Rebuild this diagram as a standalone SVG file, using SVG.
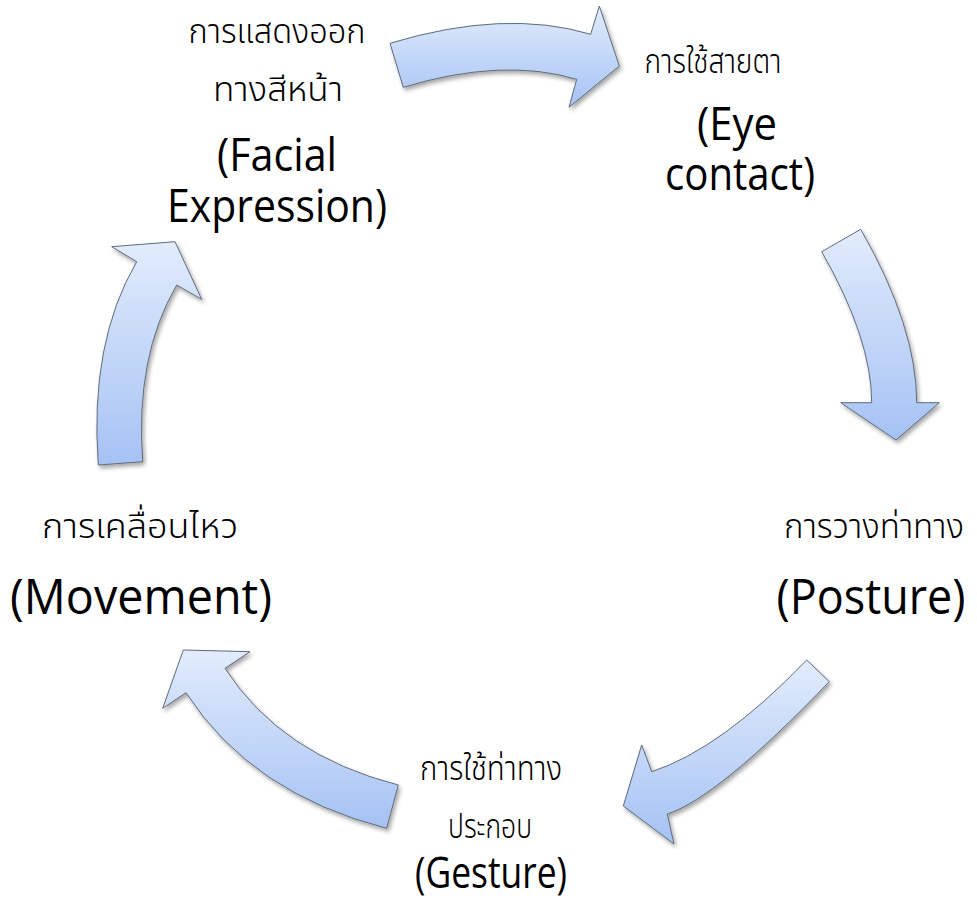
<svg xmlns="http://www.w3.org/2000/svg" width="977" height="907" viewBox="0 0 977 907">
<style>
.th{font-family:"Noto Sans Thai","Noto Sans Thai Looped","Noto Sans","DejaVu Sans",sans-serif;font-size:34px;font-weight:300;fill:#000;text-anchor:middle}
.en{font-family:"Open Sans","Liberation Sans",sans-serif;fill:#000;text-anchor:middle}
.arr{fill:url(#g);stroke:#5f6b7a;stroke-width:1;filter:url(#sh)}
</style>
<defs>
<linearGradient id="g" x1="0" y1="0" x2="0" y2="1">
<stop offset="0" stop-color="#e2ecfc"/>
<stop offset="1" stop-color="#a5c2f4"/>
</linearGradient>
<filter id="sh" x="-20%" y="-20%" width="140%" height="140%">
<feGaussianBlur in="SourceAlpha" stdDeviation="2"/>
<feOffset dx="2" dy="3" result="b"/>
<feComponentTransfer><feFuncA type="linear" slope="0.35"/></feComponentTransfer>
<feMerge><feMergeNode/><feMergeNode in="SourceGraphic"/></feMerge>
</filter>
</defs>
<g id="connectors">
<path class="arr" d="M390,43.3 Q504.8,8.6 590.7,34.3 L599.3,6 L619.3,66 L569,107.3 L576.7,79.3 Q502.8,57.2 403.3,87.3 Z"/>
<path class="arr" d="M860.7,229.3 Q916.7,326.8 916.7,402.7 L939.3,402.7 L896,440 L840.7,402.7 L871.7,402.7 Q871.7,338.8 821.7,251.7 Z"/>
<path class="arr" d="M829.3,681.7 Q718.2,797.4 667.3,814 L674,844 L623.3,806 L641.7,745 L651.7,771.7 Q721.2,749 806.7,660 Z"/>
<path class="arr" d="M386.7,828.3 Q251.5,793.7 186,692.7 L162.7,708.3 L183.3,650 L250,651.7 L225,668.3 Q281.2,755.1 398.3,785 Z"/>
<path class="arr" d="M98.3,465 Q89.2,342.9 136.7,261.7 L111.7,246.7 L175,241.7 L201.7,299.3 L176.7,285 Q134.9,356.6 142.7,461.7 Z"/>
</g>
<g id="facial">
<text class="th" x="277" y="43" textLength="177" lengthAdjust="spacingAndGlyphs">การแสดงออก</text>
<text class="th" x="278" y="101" textLength="130" lengthAdjust="spacingAndGlyphs">ทางสีหน้า</text>
<text class="en" x="277" y="171" font-size="46" textLength="120" lengthAdjust="spacingAndGlyphs">(Facial</text>
<text class="en" x="277" y="222" font-size="46" textLength="220" lengthAdjust="spacingAndGlyphs">Expression)</text>
</g>
<g id="eye">
<text class="th" x="713" y="73" textLength="137" lengthAdjust="spacingAndGlyphs">การใช้สายตา</text>
<text class="en" x="737" y="140" font-size="45" textLength="80" lengthAdjust="spacingAndGlyphs">(Eye</text>
<text class="en" x="740" y="190" font-size="45" textLength="150" lengthAdjust="spacingAndGlyphs">contact)</text>
</g>
<g id="posture">
<text class="th" x="874" y="538" textLength="180" lengthAdjust="spacingAndGlyphs">การวางท่าทาง</text>
<text class="en" x="871" y="614" font-size="49" textLength="189" lengthAdjust="spacingAndGlyphs">(Posture)</text>
</g>
<g id="gesture">
<text class="th" x="491" y="780" textLength="142" lengthAdjust="spacingAndGlyphs">การใช้ท่าทาง</text>
<text class="th" x="490" y="838" textLength="84" lengthAdjust="spacingAndGlyphs">ประกอบ</text>
<text class="en" x="491" y="888" font-size="43" textLength="152" lengthAdjust="spacingAndGlyphs">(Gesture)</text>
</g>
<g id="movement">
<text class="th" x="140" y="538" textLength="196" lengthAdjust="spacingAndGlyphs">การเคลื่อนไหว</text>
<text class="en" x="141" y="614" font-size="49" textLength="262" lengthAdjust="spacingAndGlyphs">(Movement)</text>
</g>
</svg>
